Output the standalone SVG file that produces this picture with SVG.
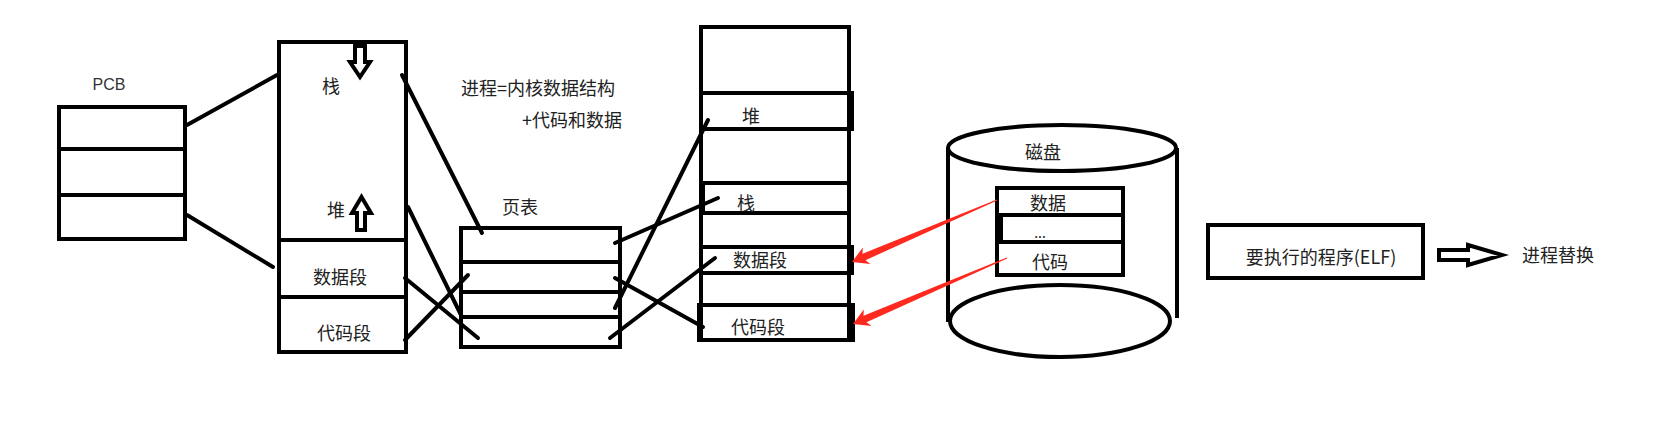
<svg xmlns="http://www.w3.org/2000/svg" width="1670" height="441" viewBox="0 0 1670 441">
<style>
.b{fill:none;stroke:#000;stroke-width:4}
.w{fill:#fff;stroke:#000;stroke-width:4;stroke-linejoin:miter}
.ln{stroke:#000;stroke-width:4;stroke-linecap:round;fill:none}
.t{font-family:"Noto Sans CJK SC","Noto Sans",sans-serif;font-size:18px;fill:#222;text-anchor:middle}
.s{font-family:"Liberation Sans",Arial,sans-serif;font-size:16px;fill:#333;text-anchor:middle}
.red{fill:#ff2a1f;stroke:none}
</style>
<rect width="1670" height="441" fill="#fff"/>

<g id="pcb">
<text class="s" x="109" y="90">PCB</text>
<rect class="b" x="59" y="107" width="126" height="132"/>
<line class="b" x1="59" y1="149" x2="185" y2="149"/>
<line class="b" x1="59" y1="195" x2="185" y2="195"/>
</g>

<g id="vmem">
<rect class="b" x="279" y="42" width="127" height="310"/>
<line class="b" x1="279" y1="240" x2="406" y2="240"/>
<line class="b" x1="279" y1="297" x2="406" y2="297"/>
<text class="t" x="331" y="93">栈</text>
<text class="t" x="336" y="217">堆</text>
<text class="t" x="340" y="284">数据段</text>
<text class="t" x="344" y="340">代码段</text>
<polygon class="w" points="355,46 365,46 365,62 370,62 360,77 350,62 355,62"/>
<polygon class="w" points="361.5,197 371,213 365,213 365,230 357,230 357,213 352,213"/>
</g>

<g id="note">
<text class="t" x="461" y="95" style="text-anchor:start">进程=内核数据结构</text>
<text class="t" x="622" y="127" style="text-anchor:end">+代码和数据</text>
</g>

<g id="pagetable">
<text class="t" x="520" y="214">页表</text>
<rect class="b" x="461" y="228" width="159" height="119"/>
<line class="b" x1="461" y1="262" x2="620" y2="262"/>
<line class="b" x1="461" y1="292" x2="620" y2="292"/>
<line class="b" x1="461" y1="317" x2="620" y2="317"/>
</g>

<g id="pmem">
<rect class="b" x="701" y="27" width="148" height="313"/>
<rect class="b" x="701" y="93" width="151" height="36"/>
<rect class="b" x="703" y="183" width="146" height="30"/>
<rect class="b" x="701" y="247" width="151" height="26"/>
<rect class="b" x="699" y="305" width="154" height="35"/>
<text class="t" x="751" y="123">堆</text>
<text class="t" x="746" y="210">栈</text>
<text class="t" x="760" y="267">数据段</text>
<text class="t" x="758" y="334">代码段</text>
</g>

<g id="disk">
<line class="b" x1="948" y1="148" x2="948" y2="322"/>
<line class="b" x1="1177" y1="148" x2="1177" y2="318"/>
<ellipse class="w" cx="1062" cy="148" rx="114" ry="23"/>
<ellipse class="w" cx="1060" cy="321" rx="110" ry="36"/>
<text class="t" x="1043" y="159">磁盘</text>
<rect class="b" x="997" y="188" width="126" height="87"/>
<rect class="b" x="1001" y="215" width="122" height="27"/>
<text class="t" x="1048" y="210">数据</text>
<text class="t" x="1040" y="238" style="font-size:14px">...</text>
<text class="t" x="1050" y="269">代码</text>
</g>

<g id="elf">
<rect class="b" x="1208" y="225" width="215" height="53"/>
<text class="t" x="1321" y="264">要执行的程序(ELF)</text>
</g>

<g id="replace">
<text class="t" x="1558" y="262">进程替换</text>
</g>

<g id="connectors">
<line class="ln" x1="187" y1="125" x2="277" y2="75"/>
<line class="ln" x1="187" y1="215" x2="273" y2="267"/>
<line class="ln" x1="402" y1="75" x2="482" y2="233"/>
<line class="ln" x1="408" y1="207" x2="461" y2="315"/>
<line class="ln" x1="405" y1="278" x2="478" y2="338"/>
<line class="ln" x1="405" y1="340" x2="468" y2="275"/>
<line class="ln" x1="615" y1="243" x2="718" y2="198"/>
<line class="ln" x1="615" y1="278" x2="703" y2="327"/>
<line class="ln" x1="615" y1="308" x2="708" y2="120"/>
<line class="ln" x1="610" y1="338" x2="715" y2="258"/>
<polygon class="red" points="996.8,199.6 862.5,253.7 862.8,247.5 852,262 870.5,264 865.5,260.2 997.2,200.4"/>
<polygon class="red" points="1006.8,257.6 863.5,315.7 863.8,309.5 853,324 871.5,326 866.5,322.2 1007.2,258.4"/>
<polygon class="w" points="1439,250 1468,250 1468,245 1502,255 1468,265 1468,260 1439,260"/>
</g>
</svg>
